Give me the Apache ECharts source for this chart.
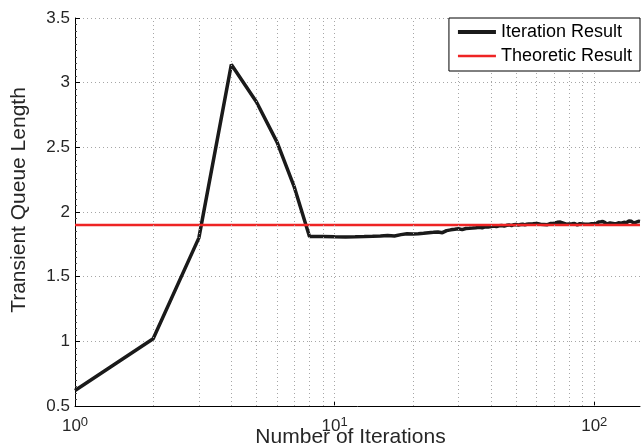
<!DOCTYPE html>
<html>
<head>
<meta charset="utf-8">
<script src="https://cdn.jsdelivr.net/npm/echarts@6/dist/echarts.min.js"></script>
<style>
html,body{margin:0;padding:0;background:#fff;}
#chart{width:642px;height:448px;}
</style>
</head>
<body>
<div id="chart"></div>
<script>
// Iteration result, one value per iteration (1..150)
const iterationValues = [
  0.62, 1.02, 1.80, 3.14, 2.85, 2.54, 2.19, 1.81, 1.81, 1.808,
  1.807, 1.808, 1.81, 1.812, 1.815, 1.818, 1.815, 1.825, 1.832, 1.83,
  1.832, 1.836, 1.84, 1.843, 1.846, 1.84, 1.856, 1.862, 1.866, 1.87,
  1.864, 1.872, 1.874, 1.876, 1.879, 1.882, 1.878, 1.886, 1.884, 1.888,
  1.892, 1.887, 1.893, 1.896, 1.891, 1.897, 1.9, 1.895, 1.902, 1.904,
  1.898, 1.903, 1.906, 1.9, 1.905, 1.908, 1.903, 1.91, 1.907, 1.912,
  1.916, 1.905, 1.898, 1.904, 1.909, 1.902, 1.906, 1.911, 1.907, 1.913,
  1.918, 1.92, 1.916, 1.922, 1.92, 1.914, 1.91, 1.906, 1.912, 1.908,
  1.903, 1.909, 1.905, 1.911, 1.907, 1.9, 1.905, 1.91, 1.904, 1.908,
  1.913, 1.905, 1.9, 1.906, 1.911, 1.907, 1.913, 1.909, 1.914, 1.91,
  1.916, 1.912, 1.918, 1.922, 1.917, 1.924, 1.92, 1.926, 1.922, 1.918,
  1.912, 1.908, 1.913, 1.909, 1.915, 1.911, 1.906, 1.912, 1.917, 1.913,
  1.908, 1.914, 1.91, 1.916, 1.912, 1.918, 1.914, 1.91, 1.916, 1.92,
  1.915, 1.911, 1.917, 1.922, 1.926, 1.93, 1.925, 1.932, 1.928, 1.922,
  1.918, 1.914, 1.919, 1.915, 1.921, 1.926, 1.922, 1.928, 1.932, 1.926
];
const theoreticValue = 1.9;
const xRange = [1, 150];
const yTicks = [0.5, 1, 1.5, 2, 2.5, 3, 3.5];
const minorGridX = [2, 3, 4, 5, 6, 7, 8, 9, 20, 30, 40, 50, 60, 70, 80, 90];
const majorGridX = [10, 100];
const seriesNames = ['Iteration Result', 'Theoretic Result'];

const iterationData = iterationValues.map((v, i) => [i + 1, v]);
const theoreticData = [[xRange[0], theoreticValue], [xRange[1], theoreticValue]];

const FONT = "'Liberation Sans', Arial, Helvetica, sans-serif";
const TXT = '#262626';
const GRID = '#a6a6a6';
const BLACK = '#1a1a1a';
const RED = '#ee2424';

const chart = echarts.init(document.getElementById('chart'), null, {renderer: 'canvas'});
chart.setOption({
  animation: false,
  backgroundColor: '#fff',
  textStyle: {fontFamily: FONT},
  grid: {left: 75, right: 2, top: 18, bottom: 42, containLabel: false, outerBoundsMode: 'none'},
  legend: {
    data: [
      {name: seriesNames[0], icon: 'path://M0,0 M38,14 M0,5 L38,5 L38,9 L0,9 Z'},
      {name: seriesNames[1], icon: 'path://M0,0 M38,14 M0,5.75 L38,5.75 L38,8.25 L0,8.25 Z'}
    ],
    orient: 'vertical',
    right: 2,
    top: 18,
    padding: [5, 8, 6, 9],
    itemGap: 6,
    itemWidth: 38,
    itemHeight: 14,
    borderColor: '#000',
    borderWidth: 1,
    backgroundColor: '#fff',
    textStyle: {fontFamily: FONT, fontSize: 18, color: '#000'},
    selectedMode: false,
    z: 10
  },
  xAxis: {
    type: 'log',
    logBase: 10,
    min: xRange[0],
    max: xRange[1],
    name: 'Number of Iterations',
    nameLocation: 'middle',
    nameGap: 21,
    nameMoveOverlap: false,
    nameTextStyle: {fontFamily: FONT, fontSize: 21, color: TXT, padding: [0, 14, 0, 0]},
    axisLine: {show: true, onZero: false, lineStyle: {color: '#000', width: 1}},
    axisTick: {show: true, inside: true, length: 5, lineStyle: {color: '#000'}},
    minorTick: {show: false},
    splitLine: {show: false},
    axisLabel: {
      showMaxLabel: false,
      margin: 10,
      formatter: function (v) {
        const e = Math.log10(v);
        if (Math.abs(e - Math.round(e)) > 1e-6) return '';
        return '{b|10}{s|' + Math.round(e) + '}';
      },
      rich: {
        b: {fontFamily: FONT, fontSize: 17, color: TXT},
        s: {fontFamily: FONT, fontSize: 13, color: TXT, verticalAlign: 'top', padding: [0, 0, 8, 0]}
      }
    }
  },
  yAxis: {
    type: 'value',
    min: yTicks[0],
    max: yTicks[yTicks.length - 1],
    interval: 0.5,
    name: 'Transient Queue Length',
    nameLocation: 'middle',
    nameGap: 45,
    nameMoveOverlap: false,
    nameTextStyle: {fontFamily: FONT, fontSize: 21, color: TXT, padding: [0, 0, 0, 24]},
    axisLine: {show: true, lineStyle: {color: '#000', width: 1}},
    axisTick: {show: true, inside: true, length: 5, lineStyle: {color: '#000'}},
    minorTick: {show: true, splitNumber: 10, length: 2, lineStyle: {color: '#444'}},
    splitLine: {show: true, lineStyle: {color: GRID, type: [1, 3], width: 1}},
    axisLabel: {
      margin: 5,
      fontFamily: FONT, fontSize: 17, color: TXT,
      formatter: function (v) { return String(v); }
    }
  },
  series: [
    {
      name: 'grid',
      type: 'line',
      data: [[xRange[0], yTicks[0]]],
      symbol: 'none',
      silent: true,
      lineStyle: {opacity: 0},
      z: 1,
      markLine: {
        silent: true,
        symbol: ['none', 'none'],
        label: {show: false},
        animation: false,
        lineStyle: {color: GRID, type: [1, 3], width: 1},
        data: minorGridX.concat(majorGridX).map(v => ({xAxis: v}))
      }
    },
    {
      name: seriesNames[0],
      type: 'line',
      data: iterationData,
      symbol: 'none',
      lineStyle: {color: BLACK, width: 3.5},
      itemStyle: {color: BLACK},
      z: 3
    },
    {
      name: seriesNames[1],
      type: 'line',
      data: theoreticData,
      symbol: 'none',
      lineStyle: {color: RED, width: 2.5},
      itemStyle: {color: RED},
      z: 4
    }
  ]
});
</script>
</body>
</html>
